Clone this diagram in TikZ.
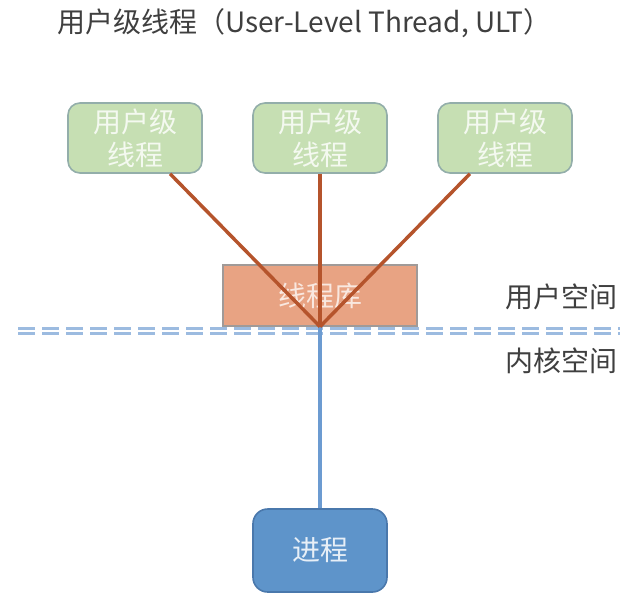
\documentclass[tikz,border=0pt]{standalone}
\usepackage{fontspec}
\setmainfont{Noto Sans CJK SC}
\usetikzlibrary{positioning}
\definecolor{UltGreen}{HTML}{C6DFB3}
\definecolor{UltGreenLine}{HTML}{93AEAA}
\definecolor{LibSalmon}{HTML}{E8A383}
\definecolor{LibLine}{HTML}{A09A98}
\definecolor{ProcBlue}{HTML}{5E94CA}
\definecolor{ProcLine}{HTML}{4A78AC}
\definecolor{LinkRed}{HTML}{B5542C}
\definecolor{LinkBlue}{HTML}{6C9BD1}
\definecolor{SplitBlue}{HTML}{9CBBE0}
\definecolor{LabelGray}{HTML}{3F3F3F}
\tikzset{ult/.style={draw=UltGreenLine,line width=1.2pt,rounded corners=9pt,fill=UltGreen,text=white!80!UltGreen,align=center,inner sep=0pt,minimum width=100.5pt,minimum height=52.5pt,font=\fontsize{21}{24.75}\selectfont},
lib/.style={draw=LibLine,line width=0.9pt,fill=LibSalmon,text=white!75!LibSalmon,inner sep=0pt,minimum width=145.5pt,minimum height=45.75pt,font=\fontsize{21}{24.75}\selectfont},
proc/.style={draw=ProcLine,line width=1.2pt,rounded corners=11pt,fill=ProcBlue,text=white!85!ProcBlue,inner sep=0pt,minimum width=100.5pt,minimum height=62.25pt,font=\fontsize{21}{24.75}\selectfont},
lbl/.style={text=LabelGray,inner sep=0pt,font=\fontsize{21}{24.75}\selectfont},
link/.style={line width=2.6pt,LinkRed},
split/.style={line width=2pt,SplitBlue,dash pattern=on 12.75pt off 5.25pt}}

\begin{document}
\begin{tikzpicture}[x=0.75pt,y=-0.75pt]
\useasboundingbox (0,0) rectangle (634,607);
\node[lbl,anchor=west] (title) at (57,23) {用户级线程（User-Level Thread, ULT）};
\node[ult] (u1) at (135,138) {用户级\\线程};
\node[ult] (u2) at (320,138) {用户级\\线程};
\node[ult] (u3) at (505,138) {用户级\\线程};
\node[lib] (lib) at (320,295.5) {线程库};
\node[proc] (proc) at (320,550.5) {进程};
\node[lbl] (uspace) at (561,297) {用户空间};
\node[lbl] (kspace) at (561,361) {内核空间};
% user / kernel split
\coordinate (splitL) at (18,328.5); \coordinate (splitR) at (620,328.5);
\draw[split] (splitL)--(splitR);
\draw[split] ([yshift=-3.75pt]splitL)--([yshift=-3.75pt]splitR);
\draw[LinkBlue,line width=2.4pt] (lib.south)--(proc);
\draw[link] (u1)--(lib.south); \draw[link] (u2)--(lib.south); \draw[link] (u3)--(lib.south);
\end{tikzpicture}
\end{document}
